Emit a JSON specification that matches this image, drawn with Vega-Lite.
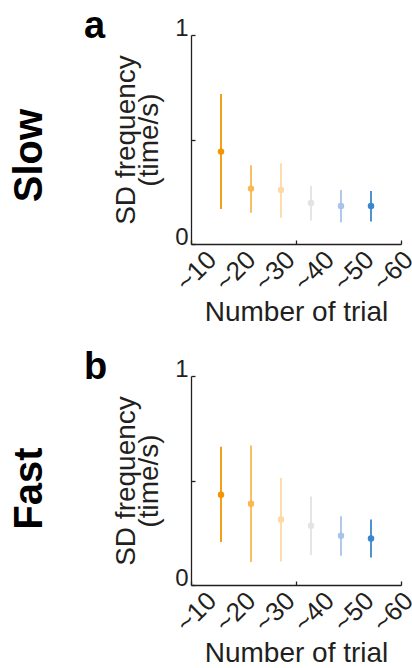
{
  "$schema": "https://vega.github.io/schema/vega-lite/v6.json",
  "background": "white",
  "padding": {"left": 9, "top": 8, "right": 0, "bottom": 0},
  "spacing": 22,
  "config": {
    "view": {"stroke": null},
    "font": "Arial",
    "axis": {"grid": false, "domainColor": "#231f20", "tickColor": "#231f20", "labelColor": "#231f20", "titleColor": "#231f20", "labelFont": "Arial", "titleFont": "Arial", "titleFontWeight": "normal", "domainWidth": 1.3, "tickWidth": 1.3},
    "title": {"font": "Arial", "color": "#000000"}
  },
  "datasets": {
    "slow": [
      {"bin": 1, "mean": 0.442, "lo": 0.167, "hi": 0.718},
      {"bin": 2, "mean": 0.265, "lo": 0.150, "hi": 0.377},
      {"bin": 3, "mean": 0.258, "lo": 0.126, "hi": 0.386},
      {"bin": 4, "mean": 0.196, "lo": 0.112, "hi": 0.278},
      {"bin": 5, "mean": 0.182, "lo": 0.104, "hi": 0.258},
      {"bin": 6, "mean": 0.182, "lo": 0.108, "hi": 0.254}
    ],
    "fast": [
      {"bin": 1, "mean": 0.432, "lo": 0.206, "hi": 0.662},
      {"bin": 2, "mean": 0.389, "lo": 0.110, "hi": 0.667},
      {"bin": 3, "mean": 0.313, "lo": 0.113, "hi": 0.512},
      {"bin": 4, "mean": 0.284, "lo": 0.144, "hi": 0.423},
      {"bin": 5, "mean": 0.236, "lo": 0.140, "hi": 0.329},
      {"bin": 6, "mean": 0.222, "lo": 0.131, "hi": 0.313}
    ]
  },
  "vconcat": [
    {
      "width": 210, "height": 209,
      "data": {"name": "slow"},
      "title": {"text": "a", "anchor": "start", "frame": "group", "fontSize": 38, "fontWeight": "bold", "dx": -107, "dy": 30, "offset": 0},
      "layer": [
        {
          "mark": {"type": "rule", "strokeWidth": 1.8},
          "encoding": {
            "x": {"field": "bin", "type": "quantitative", "scale": {"domain": [0, 7], "nice": false, "zero": false}, "axis": {"orient": "bottom", "values": [0, 3.5, 7], "tickSize": -4, "labels": false, "title": null}},
            "y": {"field": "lo", "type": "quantitative", "scale": {"domain": [0, 1], "nice": false}, "axis": {"orient": "left", "values": [0, 0.5, 1], "tickSize": -4, "labelExpr": "datum.value == 0 ? '0' : datum.value == 1 ? '1' : ''", "labelFontSize": 24, "labelBaseline": "alphabetic", "labelFlush": false, "labelOverlap": false, "labelPadding": 7, "title": ["SD frequency", "(time/s)"], "titleFontSize": 28, "titleLineHeight": 23, "titlePadding": 11}},
            "y2": {"field": "hi"},
            "color": {"field": "bin", "type": "ordinal", "scale": {"range": ["#f29500", "#fbb751", "#fdd9a5", "#e5e3e0", "#a7c3ea", "#3b87cf"]}, "legend": null}
          }
        },
        {
          "mark": {"type": "point", "filled": true, "opacity": 1, "size": 42},
          "encoding": {
            "x": {"field": "bin", "type": "quantitative", "axis": {"orient": "bottom", "values": [0.17, 1.48, 2.79, 4.1, 5.42, 6.73], "labelExpr": "datum.value < 1 ? '~10' : datum.value < 2 ? '~20' : datum.value < 3 ? '~30' : datum.value < 4.5 ? '~40' : datum.value < 6 ? '~50' : '~60'", "ticks": false, "domain": false, "labelAngle": -45, "labelAlign": "center", "labelBaseline": "middle", "labelPadding": 27, "labelFontSize": 26, "labelFlush": false, "labelOverlap": false, "title": "Number of trial", "titleFontSize": 28, "titlePadding": 3}},
            "y": {"field": "mean", "type": "quantitative", "axis": {"orient": "left", "labels": false, "ticks": false, "domain": false, "title": "Slow", "titleFontSize": 40, "titleFontWeight": "bold", "titleColor": "#000000", "titleAngle": -90, "titleAlign": "center", "titleBaseline": "alphabetic", "titleX": -150, "titleY": 120}},
            "color": {"field": "bin", "type": "ordinal", "legend": null}
          }
        }
      ],
      "resolve": {"axis": {"x": "independent", "y": "independent"}}
    },
    {
      "width": 210, "height": 209,
      "data": {"name": "fast"},
      "title": {"text": "b", "anchor": "start", "frame": "group", "fontSize": 38, "fontWeight": "bold", "dx": -107, "dy": 30, "offset": 0},
      "layer": [
        {
          "mark": {"type": "rule", "strokeWidth": 1.8},
          "encoding": {
            "x": {"field": "bin", "type": "quantitative", "scale": {"domain": [0, 7], "nice": false, "zero": false}, "axis": {"orient": "bottom", "values": [0, 3.5, 7], "tickSize": -4, "labels": false, "title": null}},
            "y": {"field": "lo", "type": "quantitative", "scale": {"domain": [0, 1], "nice": false}, "axis": {"orient": "left", "values": [0, 0.5, 1], "tickSize": -4, "labelExpr": "datum.value == 0 ? '0' : datum.value == 1 ? '1' : ''", "labelFontSize": 24, "labelBaseline": "alphabetic", "labelFlush": false, "labelOverlap": false, "labelPadding": 7, "title": ["SD frequency", "(time/s)"], "titleFontSize": 28, "titleLineHeight": 23, "titlePadding": 11}},
            "y2": {"field": "hi"},
            "color": {"field": "bin", "type": "ordinal", "scale": {"range": ["#f29500", "#fbb751", "#fdd9a5", "#e5e3e0", "#a7c3ea", "#3b87cf"]}, "legend": null}
          }
        },
        {
          "mark": {"type": "point", "filled": true, "opacity": 1, "size": 42},
          "encoding": {
            "x": {"field": "bin", "type": "quantitative", "axis": {"orient": "bottom", "values": [0.17, 1.48, 2.79, 4.1, 5.42, 6.73], "labelExpr": "datum.value < 1 ? '~10' : datum.value < 2 ? '~20' : datum.value < 3 ? '~30' : datum.value < 4.5 ? '~40' : datum.value < 6 ? '~50' : '~60'", "ticks": false, "domain": false, "labelAngle": -45, "labelAlign": "center", "labelBaseline": "middle", "labelPadding": 27, "labelFontSize": 26, "labelFlush": false, "labelOverlap": false, "title": "Number of trial", "titleFontSize": 28, "titlePadding": 3}},
            "y": {"field": "mean", "type": "quantitative", "axis": {"orient": "left", "labels": false, "ticks": false, "domain": false, "title": "Fast", "titleFontSize": 40, "titleFontWeight": "bold", "titleColor": "#000000", "titleAngle": -90, "titleAlign": "center", "titleBaseline": "alphabetic", "titleX": -150, "titleY": 112}},
            "color": {"field": "bin", "type": "ordinal", "legend": null}
          }
        }
      ],
      "resolve": {"axis": {"x": "independent", "y": "independent"}}
    }
  ]
}
